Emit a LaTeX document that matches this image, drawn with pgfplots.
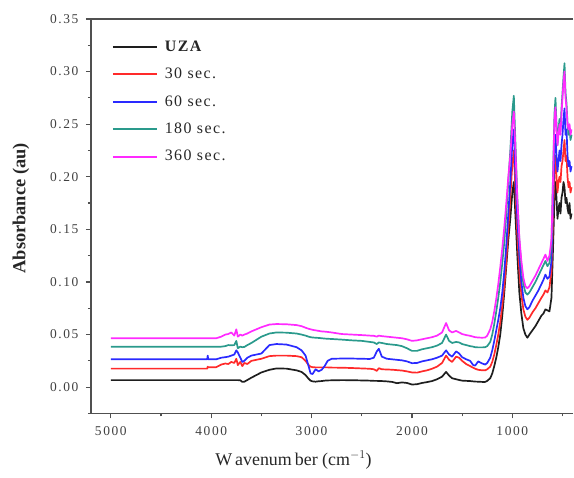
\documentclass[border=0pt]{standalone}
\usepackage{pgfplots}
\pgfplotsset{compat=1.18}
\usepackage{pgfplotstable}
\usepackage{fontspec}
\setmainfont{Liberation Serif}
\newfontfamily\spaced[LetterSpace=12]{Liberation Serif}
\newfontfamily\legfont[LetterSpace=9]{Liberation Serif}

\definecolor{cUZA}{HTML}{1E1E1E}
\definecolor{cThirty}{HTML}{FF2A2A}
\definecolor{cSixty}{HTML}{2A2AFF}
\definecolor{cOneEighty}{HTML}{2A9A8C}
\definecolor{cThreeSixty}{HTML}{FF2AFF}
\definecolor{axgray}{HTML}{505050}
\definecolor{tickgray}{HTML}{404040}

% FTIR absorbance spectra: wavenumber (cm^-1) vs absorbance for each treatment time
\pgfplotstableread{
x     uza    s30    s60    s180   s360
5000  .0067  .0176  .0265  .0385  .0465
4100  .0067  .0176  .0265  .0385  .0465
4040  .0067  .0176  .0265  .0385  .0465
4035  .0067  .0195  .0300  .0385  .0465
4030  .0067  .0190  .0265  .0385  .0465
3950  .0067  .0190  .0265  .0385  .0465
3900  .0067  .0215  .0280  .0385  .0480
3860  .0067  .0225  .0285  .0390  .0500
3830  .0067  .0220  .0290  .0400  .0505
3800  .0067  .0240  .0300  .0398  .0520
3770  .0067  .0230  .0310  .0400  .0490
3750  .0067  .0270  .0350  .0440  .0550
3735  .0067  .0210  .0330  .0370  .0480
3710  .0065  .0240  .0280  .0385  .0500
3690  .0050  .0200  .0240  .0380  .0490
3670  .0052  .0230  .0250  .0382  .0500
3640  .0068  .0220  .0280  .0400  .0510
3600  .0090  .0250  .0300  .0420  .0530
3550  .0115  .0260  .0310  .0450  .0550
3500  .0140  .0270  .0320  .0480  .0570
3420  .0165  .0295  .0400  .0510  .0595
3350  .0178  .0300  .0410  .0520  .0600
3250  .0176  .0300  .0405  .0518  .0598
3150  .0160  .0295  .0380  .0510  .0590
3100  .0145  .0285  .0350  .0500  .0580
3060  .0115  .0250  .0300  .0490  .0565
3030  .0080  .0210  .0200  .0480  .0555
3010  .0062  .0195  .0130  .0475  .0550
2990  .0055  .0190  .0125  .0472  .0545
2960  .0052  .0188  .0170  .0470  .0540
2930  .0056  .0188  .0150  .0468  .0535
2900  .0058  .0188  .0165  .0465  .0530
2870  .0062  .0188  .0200  .0462  .0528
2840  .0064  .0188  .0250  .0460  .0525
2800  .0065  .0186  .0270  .0458  .0520
2700  .0067  .0185  .0272  .0452  .0505
2600  .0066  .0182  .0272  .0445  .0500
2500  .0064  .0178  .0270  .0440  .0495
2420  .0062  .0175  .0268  .0430  .0490
2380  .0060  .0170  .0280  .0425  .0488
2350  .0060  .0155  .0340  .0410  .0480
2330  .0058  .0180  .0365  .0425  .0490
2300  .0058  .0170  .0290  .0420  .0485
2250  .0055  .0168  .0270  .0410  .0480
2200  .0050  .0166  .0265  .0405  .0475
2150  .0038  .0162  .0260  .0400  .0470
2100  .0045  .0158  .0255  .0390  .0465
2050  .0040  .0150  .0245  .0370  .0455
2000  .0025  .0140  .0228  .0345  .0440
1950  .0028  .0138  .0230  .0345  .0445
1900  .0040  .0150  .0245  .0360  .0455
1850  .0048  .0160  .0255  .0370  .0465
1800  .0058  .0175  .0265  .0380  .0475
1750  .0075  .0195  .0280  .0395  .0490
1700  .0100  .0230  .0300  .0420  .0520
1660  .0145  .0300  .0350  .0500  .0610
1630  .0110  .0260  .0310  .0440  .0540
1600  .0085  .0240  .0290  .0420  .0520
1560  .0075  .0290  .0340  .0430  .0535
1530  .0068  .0280  .0320  .0425  .0520
1500  .0062  .0250  .0285  .0410  .0505
1460  .0060  .0220  .0265  .0400  .0495
1420  .0058  .0200  .0250  .0390  .0488
1390  .0055  .0185  .0210  .0385  .0480
1370  .0053  .0175  .0205  .0380  .0475
1340  .0052  .0165  .0245  .0378  .0472
1300  .0050  .0160  .0225  .0378  .0470
1270  .0050  .0160  .0215  .0380  .0472
1250  .0060  .0170  .0230  .0390  .0490
1220  .0085  .0195  .0280  .0430  .0550
1200  .0130  .0240  .0350  .0500  .0620
1180  .0200  .0310  .0440  .0600  .0720
1160  .0280  .0400  .0540  .0720  .0840
1140  .0380  .0500  .0640  .0850  .0980
1120  .0500  .0620  .0750  .1000  .1140
1100  .0680  .0780  .0900  .1180  .1320
1080  .0900  .0960  .1100  .1380  .1520
1060  .1150  .1200  .1350  .1650  .1750
1040  .1400  .1500  .1650  .1950  .2000
1020  .1600  .1800  .1950  .2250  .2200
1000  .1850  .2120  .2320  .2620  .2500
985   .1950  .2250  .2450  .2770  .2620
970   .1650  .1900  .2050  .2350  .2280
950   .1250  .1450  .1600  .1800  .1780
930   .0900  .1100  .1250  .1400  .1420
910   .0700  .0880  .1000  .1150  .1200
890   .0560  .0740  .0850  .0980  .1040
870   .0500  .0670  .0770  .0900  .0960
850   .0470  .0640  .0740  .0880  .0940
830   .0500  .0660  .0760  .0900  .0960
800   .0540  .0710  .0820  .0950  .1010
770   .0580  .0750  .0870  .1000  .1060
740   .0630  .0800  .0920  .1060  .1120
710   .0680  .0850  .0980  .1120  .1180
690   .0700  .0880  .1020  .1160  .1220
670   .0740  .0920  .1070  .1200  .1260
650   .0730  .0900  .1030  .1150  .1200
630   .0720  .0950  .1050  .1180  .1250
610   .0850  .1100  .1200  .1350  .1400
595   .1300  .1600  .1750  .2000  .1950
580   .1800  .2050  .2250  .2600  .2550
570   .1950  .2200  .2400  .2750  .2660
560   .1800  .2000  .2200  .2500  .2450
550   .1600  .1850  .2050  .2300  .2300
540   .1700  .1950  .2150  .2450  .2400
530   .1750  .2000  .2250  .2550  .2500
520   .1650  .1950  .2150  .2450  .2400
510   .1800  .2100  .2300  .2650  .2600
500   .1850  .2150  .2400  .2800  .2750
490   .1950  .2250  .2550  .2950  .2900
480   .1900  .2350  .2650  .3080  .3000
470   .1750  .2150  .2400  .2800  .2750
460   .1800  .2200  .2450  .2700  .2650
450   .1700  .2000  .2200  .2500  .2500
440   .1650  .1900  .2100  .2400  .2450
430   .1750  .1950  .2150  .2450  .2500
420   .1600  .1850  .2050  .2350  .2400
410   .1650  .1900  .2100  .2400  .2450
}\spectra

\begin{document}
\begin{tikzpicture}
\begin{axis}[
  scale only axis,
  width=483bp, height=395bp,
  x dir=reverse,
  xmin=393, xmax=5199,
  ymin=-0.025, ymax=0.35,
  axis x line=box,
  axis y line*=left,
  axis line style={axgray, line width=1.5bp},
  every outer x axis line/.append style={-},
  every outer y axis line/.append style={-},
  xtick={1000,2000,3000,4000,5000},
  minor xtick={1500,2500,3500,4500,500},
  ytick={0,0.05,0.10,0.15,0.20,0.25,0.30,0.35},
  minor ytick={-0.025,0.025,0.075,0.125,0.175,0.225,0.275,0.325},
  xtick pos=bottom, ytick pos=left,
  tick align=outside,
  major tick length=5bp, minor tick length=3bp,
  tick style={axgray, line width=1.2bp},
  /pgf/number format/assume math mode=true,
  xticklabel style={font=\spaced\fontsize{13.5}{13.5}\selectfont, text=tickgray, yshift=-5bp},
  yticklabel style={font=\spaced\fontsize{13.5}{13.5}\selectfont, text=tickgray, xshift=-4bp,
    /pgf/number format/fixed, /pgf/number format/fixed zerofill, /pgf/number format/precision=2},
  xticklabel style={/pgf/number format/1000 sep={}},
  scaled y ticks=false,
  xlabel={W\,avenum\,ber (cm$^{-1}$)},
  xlabel style={font=\fontsize{18}{18}\selectfont, text=black!85, at={(axis description cs:0.42,-0.118)}, anchor=center},
  ylabel={\textbf{Absorbance (au)}},
  ylabel style={font=\fontsize{18.5}{18.5}\selectfont, text=black!85, at={(axis description cs:-0.145,0.52)}, anchor=center, rotate=0},
  legend cell align=left,
  legend style={at={(axis description cs:0.037,0.957)}, anchor=north west, draw=none, fill=none,
    font=\legfont\fontsize{16}{16}\selectfont, text=black!85,
    row sep=10bp,
    /tikz/every odd column/.append style={column sep=6bp},
    nodes={inner sep=1bp, text height=12bp, text depth=3.5bp}},
  legend image code/.code={\draw[#1, line width=2bp] (0bp,0bp) -- (44bp,0bp);},
  every axis plot/.append style={line width=1.7bp, line join=round},
]
\addplot[cUZA] table[x=x, y=uza] {\spectra};
\addlegendentry{\textbf{UZA}}
\addplot[cThirty] table[x=x, y=s30] {\spectra};
\addlegendentry{30 sec.}
\addplot[cSixty] table[x=x, y=s60] {\spectra};
\addlegendentry{60 sec.}
\addplot[cOneEighty] table[x=x, y=s180] {\spectra};
\addlegendentry{180 sec.}
\addplot[cThreeSixty] table[x=x, y=s360] {\spectra};
\addlegendentry{360 sec.}
\end{axis}
\path[use as bounding box] ([xshift=-91bp,yshift=-64bp]current axis.south west) rectangle ([yshift=19bp]current axis.north east);
\end{tikzpicture}
\end{document}
